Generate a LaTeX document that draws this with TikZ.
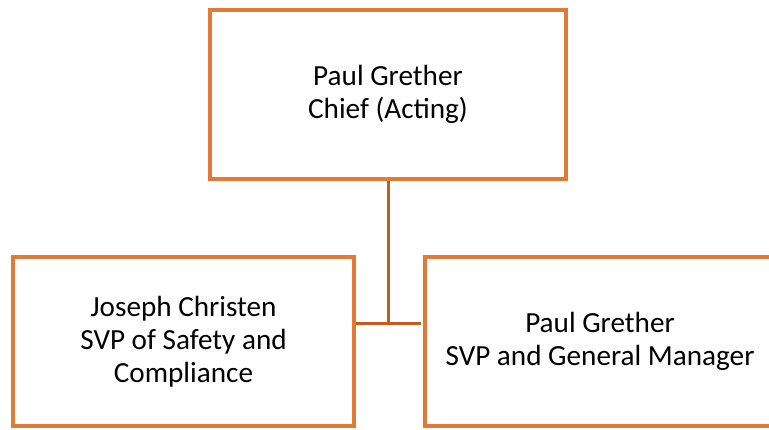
\documentclass[tikz,border=0pt]{standalone}
\usepackage{fontspec}
\setmainfont{Carlito}
\definecolor{boxorange}{RGB}{224,122,52}
\definecolor{linkorange}{RGB}{197,92,30}
\tikzset{
  orgbox/.style={draw=boxorange, line width=3.3pt, fill=white, rectangle,
    minimum height=169pt, inner sep=0pt, align=center,
    font=\fontsize{29.2pt}{33pt}\selectfont},
  link/.style={draw=linkorange, line width=3pt}
}
\begin{document}
\begin{tikzpicture}[x=1pt,y=1pt]
\useasboundingbox (0,0) rectangle (769,-429);
\clip (0,0) rectangle (769,-429);
\fill[white] (0,0) rectangle (769,-429);
\node[orgbox, minimum width=356pt] (top) at (388,-94.5) {Paul Grether\\Chief (Acting)};
\node[orgbox, minimum width=341pt] (left) at (183.5,-341.5) {Joseph Christen\\SVP of Safety and\\Compliance};
\node[orgbox, minimum width=350pt] (right) at (600,-341.5) {Paul Grether\\SVP and General Manager};
\coordinate (j) at (388,-323);
\draw[link] (top.south) -- (j);
\draw[link] (left.east |- j) -- ([xshift=-2.5pt]right.west |- j);
\end{tikzpicture}
\end{document}
